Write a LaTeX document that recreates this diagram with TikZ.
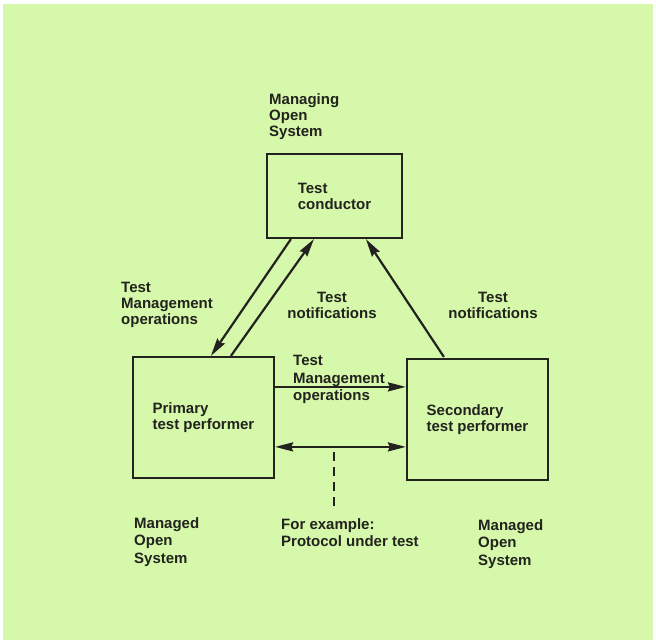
\documentclass[tikz,border=0pt]{standalone}
\usepackage{fontspec}
\setmainfont{Liberation Sans}
\usetikzlibrary{arrows.meta,calc}
\definecolor{paper}{RGB}{214,248,170}
\definecolor{ink}{RGB}{34,34,30}
\begin{document}
\begin{tikzpicture}[x=1pt,y=-1pt,
  every node/.style={text=ink},
  lbl/.style={anchor=north west,inner sep=0pt,align=left,
    font={\fontsize{15}{16}\selectfont\bfseries}},
  lblc/.style={lbl,anchor=north,align=center},
  lbll/.style={lbl,font={\fontsize{15}{17.8}\selectfont\bfseries}},
  box/.style={draw=ink,line width=2.2pt,align=left,inner sep=0pt,
    font={\fontsize{15}{16}\selectfont\bfseries}},
  arr/.style={draw=ink,line width=2.2pt,-{Stealth[length=18pt,width=9pt,inset=2pt]}},
  darr/.style={draw=ink,line width=2.2pt,{Stealth[length=18pt,width=9pt,inset=2pt]}-{Stealth[length=18pt,width=9pt,inset=2pt]}},
  dashline/.style={draw=ink,line width=2.2pt,dash pattern=on 9pt off 6pt}]
  % paper
  \fill[white] (0,0) rectangle (656,640);
  \fill[paper] (3,4) rectangle (653,640);
  \useasboundingbox (0,0) rectangle (656,640);

  % boxes
  \node[box,minimum width=135pt,minimum height=84pt] (cond) at (334.5,196) {Test\\conductor};
  \node[box,minimum width=141pt,minimum height=121pt] (prim) at (203.5,417.5) {Primary\\test performer};
  \node[box,minimum width=141pt,minimum height=121pt] (sec) at (477.5,419.5) {Secondary\\test performer};

  % system labels
  \node[lbl] (mgr) at (269,93) {Managing\\Open\\System};
  \node[lbll] (mgd1) at (134,517) {Managed\\Open\\System};
  \node[lbll] (mgd2) at (478,519) {Managed\\Open\\System};

  % connectors
  \draw[arr] ($(cond.south west)+(25,0)$) -- ($(prim.north west)+(79,0)$);
  \draw[arr] ($(prim.north west)+(99,0)$) -- ($(cond.south west)+(48,0)$);
  \draw[arr] ($(sec.north west)+(38,-1)$) -- ($(cond.south west)+(100,0)$);
  \draw[arr] ($(prim.north east)+(0,31)$) -- ($(sec.north west)+(0,29)$);
  \draw[darr] ($(prim.north east)+(0,91)$) -- ($(sec.north west)+(0,89)$);
  \coordinate (ptop) at (334,448);
  \coordinate (pbot) at (334,508);
  \draw[dashline] ($(ptop)+(0,4)$) -- (pbot);

  % connector labels
  \node[lbl] (opsl) at (121,282) {Test\\Management\\operations};
  \node[lblc] (notl) at (332,292) {Test\\notifications};
  \node[lblc] (notr) at (493,292) {Test\\notifications};
  \node[lbl,font={\fontsize{15}{17.5}\selectfont\bfseries}] (opsm) at (293,355) {Test\\Management\\operations};
  \node[lbll] (proto) at (281,518) {For example:\\Protocol under test};
\end{tikzpicture}
\end{document}
